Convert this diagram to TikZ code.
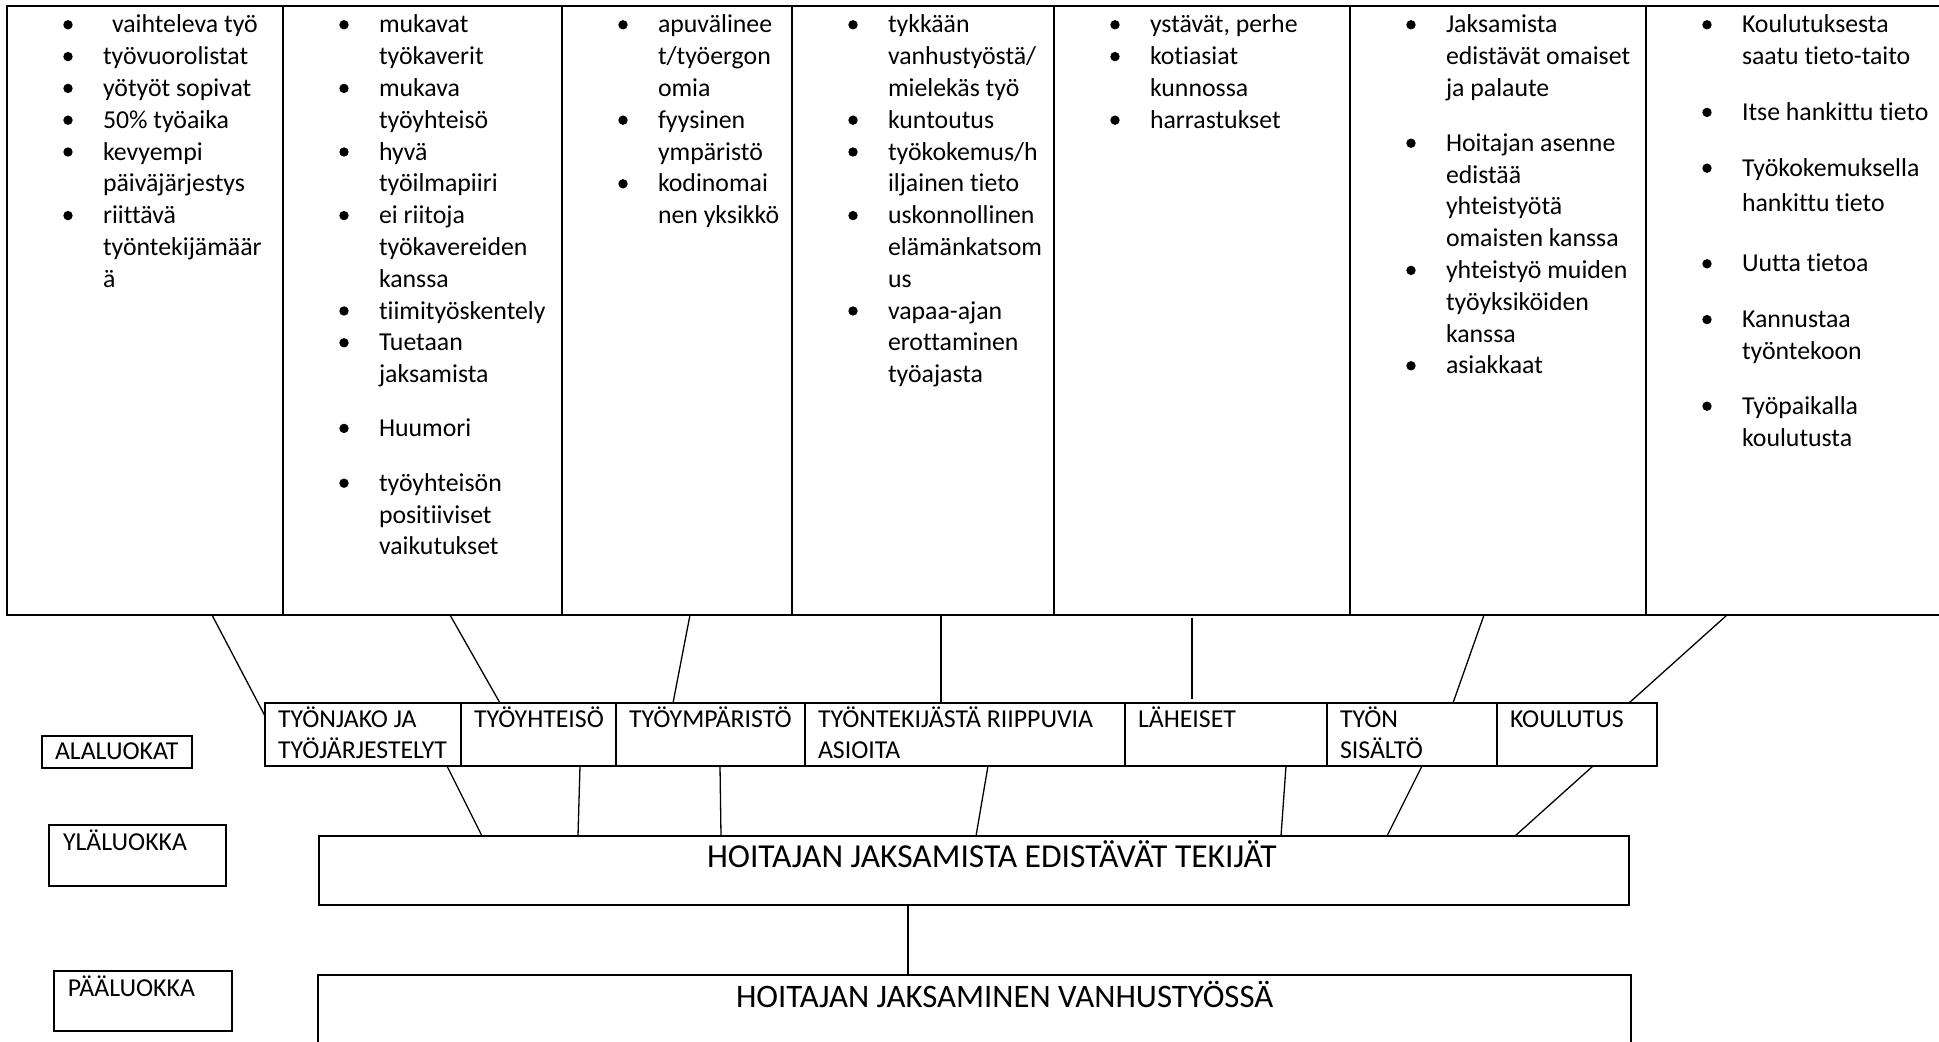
\documentclass[tikz,border=0pt]{standalone}
\usepackage{fontspec}
\setmainfont{Carlito}[Ligatures=CommonOff]
\usetikzlibrary{calc}
\newlength{\px}\setlength{\px}{0.5pt}
\newcommand{\bul}{\makebox[0pt][c]{\raisebox{3.5\px}{\tikz\fill (0,0) circle (4.7\px);}}\hspace{35\px}}
\newcommand{\ind}{\hspace{35\px}}
\tikzset{
  cellbox/.style={draw, line width=1.2pt, inner sep=0pt, outer sep=0pt, anchor=north west},
  conn/.style={line width=0.65pt},
  body/.style={font=\fontsize{12.9pt}{15.9pt}\selectfont, inner sep=0pt, outer sep=0pt, anchor=base west},
  bigtxt/.style={font=\fontsize{16.75pt}{19pt}\selectfont, inner sep=0pt, outer sep=0pt, anchor=base west},
}
\begin{document}
\begin{tikzpicture}[x=0.5pt, y=-0.5pt]
\useasboundingbox (0,0) rectangle (1939,1042);
\fill[white] (0,0) rectangle (1939,1042);

% top table cells
\node[cellbox, minimum width=276\px, minimum height=609\px] (t1) at (7,6) {};
\node[cellbox, minimum width=279\px, minimum height=609\px] (t2) at (283,6) {};
\node[cellbox, minimum width=230\px, minimum height=609\px] (t3) at (562,6) {};
\node[cellbox, minimum width=262\px, minimum height=609\px] (t4) at (792,6) {};
\node[cellbox, minimum width=296\px, minimum height=609\px] (t5) at (1054,6) {};
\node[cellbox, minimum width=296\px, minimum height=609\px] (t6) at (1350,6) {};
\node[cellbox, minimum width=330\px, minimum height=609\px] (t7) at (1646,6) {};

% column texts
\node[body] (col1) at (68,33) {\begin{tabular}[t]{@{}l@{}}
\bul\hspace{9\px}vaihteleva työ\\
\bul työvuorolistat\\
\bul yötyöt sopivat\\
\bul 50\% työaika\\
\bul kevyempi\\
\ind päiväjärjestys\\
\bul riittävä\\
\ind työntekijämäär\\
\ind ä
\end{tabular}};

\node[body] (col2) at (344,33) {\begin{tabular}[t]{@{}l@{}}
\bul mukavat\\
\ind työkaverit\\
\bul mukava\\
\ind työyhteisö\\
\bul hyvä\\
\ind työilmapiiri\\
\bul ei riitoja\\
\ind työkavereiden\\
\ind kanssa\\
\bul tiimityöskentely\\
\bul Tuetaan\\
\ind jaksamista\\[22\px]
\bul Huumori\\[23\px]
\bul työyhteisön\\
\ind positiiviset\\
\ind vaikutukset
\end{tabular}};

\node[body] (col3) at (623,33) {\begin{tabular}[t]{@{}l@{}}
\bul apuvälinee\\
\ind t/työergon\\
\ind omia\\
\bul fyysinen\\
\ind ympäristö\\
\bul kodinomai\\
\ind nen yksikkö
\end{tabular}};

\node[body] (col4) at (853,33) {\begin{tabular}[t]{@{}l@{}}
\bul tykkään\\
\ind vanhustyöstä/\\
\ind mielekäs työ\\
\bul kuntoutus\\
\bul työkokemus/h\\
\ind iljainen tieto\\
\bul uskonnollinen\\
\ind elämänkatsom\\
\ind us\\
\bul vapaa-ajan\\
\ind erottaminen\\
\ind työajasta
\end{tabular}};

\node[body] (col5) at (1115,33) {\begin{tabular}[t]{@{}l@{}}
\bul ystävät, perhe\\
\bul kotiasiat\\
\ind kunnossa\\
\bul harrastukset
\end{tabular}};

\node[body] (col6) at (1411,33) {\begin{tabular}[t]{@{}l@{}}
\bul Jaksamista\\
\ind edistävät omaiset\\
\ind ja palaute\\[23\px]
\bul Hoitajan asenne\\
\ind edistää\\
\ind yhteistyötä\\
\ind omaisten kanssa\\
\bul yhteistyö muiden\\
\ind työyksiköiden\\
\ind kanssa\\
\bul asiakkaat
\end{tabular}};

\node[body] (col7) at (1707,33) {\begin{tabular}[t]{@{}l@{}}
\bul Koulutuksesta\\
\ind saatu tieto-taito\\[24\px]
\bul Itse hankittu tieto\\[24\px]
\bul Työkokemuksella\\[3\px]
\ind hankittu tieto\\[29\px]
\bul Uutta tietoa\\[24\px]
\bul Kannustaa\\
\ind työntekoon\\[23\px]
\bul Työpaikalla\\
\ind koulutusta
\end{tabular}};

% middle row boxes
\node[cellbox, minimum width=196\px, minimum height=63\px] (m1) at (265,703) {};
\node[cellbox, minimum width=155\px, minimum height=63\px] (m2) at (461,703) {};
\node[cellbox, minimum width=189\px, minimum height=63\px] (m3) at (616,703) {};
\node[cellbox, minimum width=320\px, minimum height=63\px] (m4) at (805,703) {};
\node[cellbox, minimum width=202\px, minimum height=63\px] (m5) at (1125,703) {};
\node[cellbox, minimum width=170\px, minimum height=63\px] (m6) at (1327,703) {};
\node[cellbox, minimum width=160\px, minimum height=63\px] (m7) at (1497,703) {};

\node[body] (m1t) at ([xshift=13\px,yshift=-24\px]m1.north west) {\begin{tabular}[t]{@{}l@{}}TYÖNJAKO JA\\TYÖJÄRJESTELYT\end{tabular}};
\node[body] (m2t) at ([xshift=13\px,yshift=-24\px]m2.north west) {TYÖYHTEISÖ};
\node[body] (m3t) at ([xshift=13\px,yshift=-24\px]m3.north west) {TYÖYMPÄRISTÖ};
\node[body] (m4t) at ([xshift=13\px,yshift=-24\px]m4.north west) {\begin{tabular}[t]{@{}l@{}}TYÖNTEKIJÄSTÄ RIIPPUVIA\\ASIOITA\end{tabular}};
\node[body] (m5t) at ([xshift=13\px,yshift=-24\px]m5.north west) {LÄHEISET};
\node[body] (m6t) at ([xshift=13\px,yshift=-24\px]m6.north west) {\begin{tabular}[t]{@{}l@{}}TYÖN\\SISÄLTÖ\end{tabular}};
\node[body] (m7t) at ([xshift=13\px,yshift=-24\px]m7.north west) {KOULUTUS};

% left labels
\node[cellbox, minimum width=150\px, minimum height=32\px] (l1) at (42,736) {};
\node[body] (l1t) at ([xshift=13\px,yshift=-24\px]l1.north west) {ALALUOKAT};
\node[cellbox, minimum width=177\px, minimum height=61\px] (l2) at (49,825) {};
\node[body] (l2t) at ([xshift=14\px,yshift=-25\px]l2.north west) {YLÄLUOKKA};
\node[cellbox, minimum width=178\px, minimum height=60\px] (l3) at (54,971) {};
\node[body] (l3t) at ([xshift=14\px,yshift=-25\px]l3.north west) {PÄÄLUOKKA};

% big boxes
\node[cellbox, minimum width=1310\px, minimum height=69\px] (b1) at (319,836) {};
\node[bigtxt] (b1t) at ([xshift=388\px,yshift=-31\px]b1.north west) {HOITAJAN JAKSAMISTA EDISTÄVÄT TEKIJÄT};
\node[cellbox, minimum width=1313\px, minimum height=100\px] (b2) at (318,975) {};
\node[bigtxt, font=\fontsize{16.4pt}{19pt}\selectfont] (b2t) at ([xshift=418\px,yshift=-32\px]b2.north west) {HOITAJAN JAKSAMINEN VANHUSTYÖSSÄ};

% connectors table -> middle row
\draw[conn] ([xshift=205\px]t1.south west) -- ([yshift=-13\px]m1.north west);
\draw[conn] ([xshift=167\px]t2.south west) -- ([xshift=39\px]m2.north west);
\draw[conn] ([xshift=128\px]t3.south west) -- ([xshift=57\px]m3.north west);
\draw[conn] ([xshift=149\px]t4.south west) -- ([xshift=136\px]m4.north west);
\draw[conn] ([xshift=138\px,yshift=-3\px]t5.south west) -- ([xshift=67\px,yshift=4\px]m5.north west);
\draw[conn] ([xshift=134\px]t6.south west) -- ([xshift=126\px]m6.north west);
\draw[conn] ([xshift=81\px]t7.south west) -- ([xshift=132\px]m7.north west);

% connectors middle row -> b1
\draw[conn] ([xshift=182\px]m1.south west) -- ([xshift=163\px]b1.north west);
\draw[conn] ([xshift=119\px]m2.south west) -- ([xshift=259\px]b1.north west);
\draw[conn] ([xshift=104\px]m3.south west) -- ([xshift=402\px]b1.north west);
\draw[conn] ([xshift=183\px]m4.south west) -- ([xshift=657\px]b1.north west);
\draw[conn] ([xshift=161\px]m5.south west) -- ([xshift=962\px]b1.north west);
\draw[conn] ([xshift=95\px]m6.south west) -- ([xshift=1068\px]b1.north west);
\draw[conn] ([xshift=96\px]m7.south west) -- ([xshift=1196\px]b1.north west);

% b1 -> b2
\draw[conn] ([xshift=589\px]b1.south west) -- ([xshift=590\px]b2.north west);
\end{tikzpicture}
\end{document}
